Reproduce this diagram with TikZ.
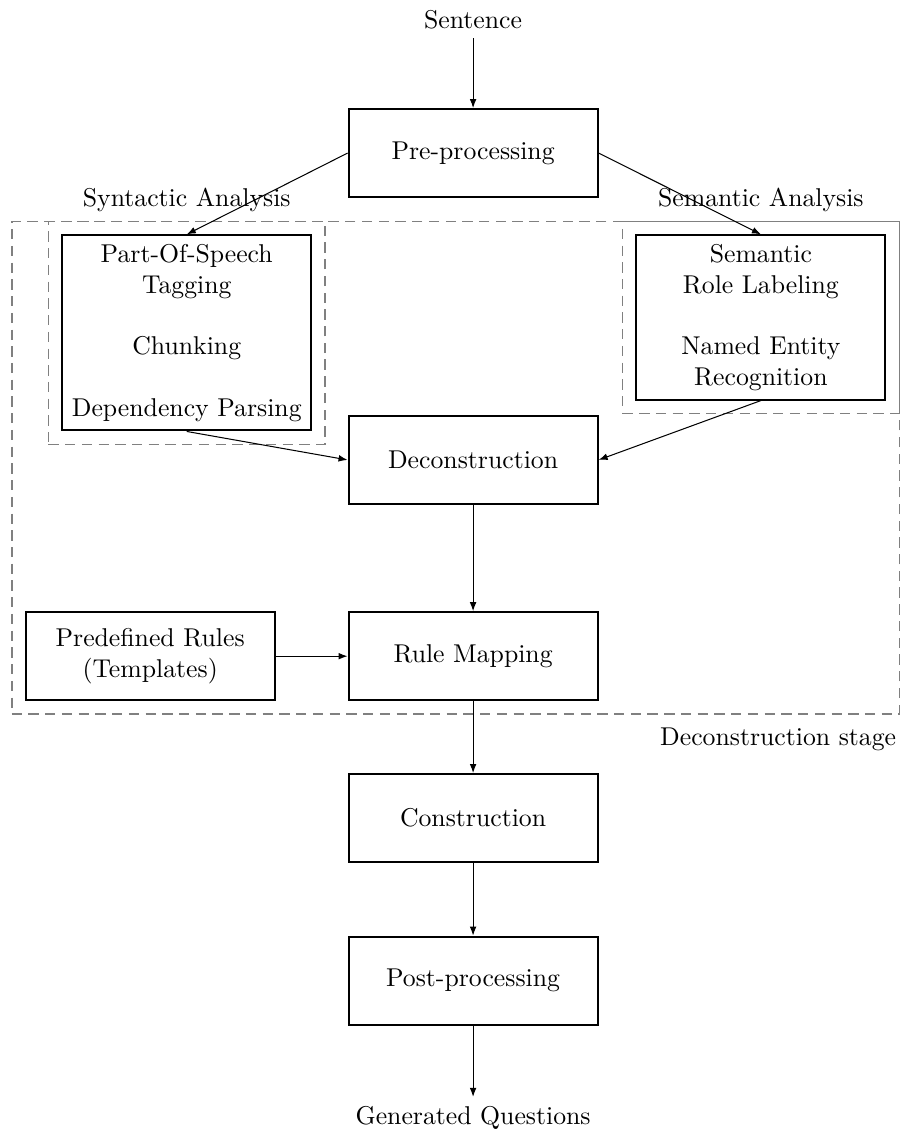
\documentclass[tikz,border=0pt]{standalone}
\usepackage{amsmath, amssymb}
\usepackage{xcolor}
\usetikzlibrary{arrows.meta,fit}
\tikzstyle{stage}=[draw=black, thick, minimum width=3.4cm, minimum height=1.2cm, align=center]
\tikzstyle{group}=[draw=gray, semithick, dash pattern=on 4pt off 2.5pt, inner sep=5pt]
\tikzstyle{flow}=[black, -{Latex[length=3.5pt,width=2.6pt]}]

\begin{document}
\begin{tikzpicture}
\useasboundingbox (0,0) rectangle (12.29,-15.43);

\node (sentence) at (6.46,-0.27) {Sentence};
\node [stage] (pre) at (6.46,-2.09) {Pre-processing};

% analysis boxes
\node [stage, anchor=north] (syntax) at (2.55,-3.20) {Part-Of-Speech\\Tagging\\[12pt]Chunking\\[12pt]Dependency Parsing};
\node [stage, anchor=north] (semantic) at (10.39,-3.20) {Semantic\\Role Labeling\\[12pt]Named Entity\\Recognition};

\node [stage] (decon) at (6.46,-6.28) {Deconstruction};
\node [stage] (rules) at (2.05,-8.96) {Predefined Rules\\(Templates)};
\node [stage] (mapping) at (6.46,-8.96) {Rule Mapping};
\node [stage] (construct) at (6.46,-11.17) {Construction};
\node [stage] (post) at (6.46,-13.39) {Post-processing};
\node (questions) at (6.46,-15.26) {Generated Questions};

% dashed groups
\node [group, fit=(syntax)] (synbox) {};
\node [group, fit=(semantic)] (sembox) {};
\node [group, fit=(syntax)(semantic)(rules)(mapping)] (decbox) {};
\node [above] (synlabel) at (synbox.north) {Syntactic Analysis};
\node [above] (semlabel) at (sembox.north) {Semantic Analysis};
\node [anchor=north east, yshift=-1.5pt, xshift=2pt] (stagelabel) at (decbox.south east) {Deconstruction stage};

\draw [flow] (sentence) -- (pre);
\draw [flow] (pre.west) -- (syntax.north);
\draw [flow] (pre.east) -- (semantic.north);
\draw [flow] (syntax.south) -- (decon.west);
\draw [flow] (semantic.south) -- (decon.east);
\draw [flow] (decon) -- (mapping);
\draw [flow] (rules) -- (mapping);
\draw [flow] (mapping) -- (construct);
\draw [flow] (construct) -- (post);
\draw [flow] (post) -- (questions);
\end{tikzpicture}
\end{document}
